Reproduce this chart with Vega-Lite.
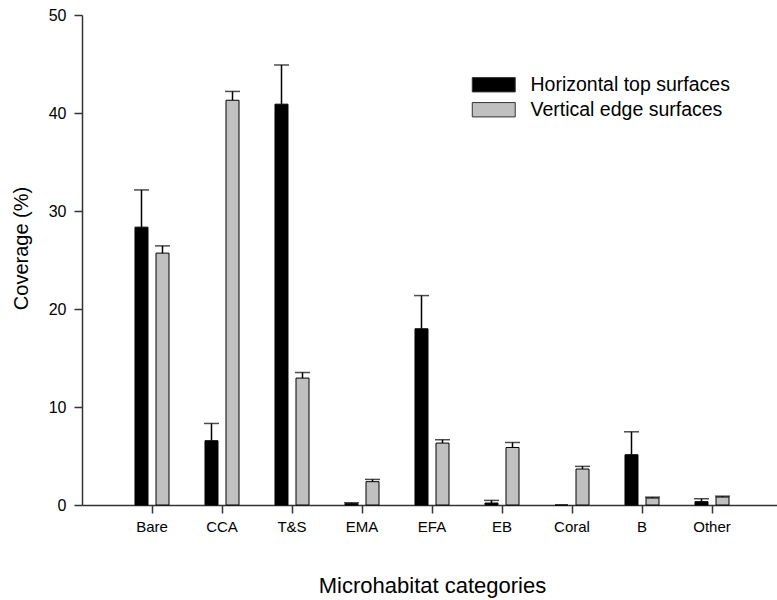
{
  "$schema": "https://vega.github.io/schema/vega-lite/v6.json",
  "width": 700,
  "height": 490,
  "autosize": {"type": "none"},
  "padding": {"left": 82, "top": 15, "right": 0, "bottom": 95},
  "background": "white",
  "config": {
    "view": {"stroke": null},
    "font": "Liberation Sans",
    "axis": {"grid": false, "domainColor": "#333333", "tickColor": "#333333", "domainWidth": 1.5, "tickWidth": 1.5, "tickSize": 8, "labelColor": "black", "titleColor": "black", "titleFontWeight": "normal", "labelFont": "Liberation Sans", "titleFont": "Liberation Sans"}
  },
  "data": {
    "values": [
      {"cat": "Bare", "surface": "Horizontal top surfaces", "mean": 28.35, "upper": 32.15},
      {"cat": "Bare", "surface": "Vertical edge surfaces", "mean": 25.7, "upper": 26.44},
      {"cat": "CCA", "surface": "Horizontal top surfaces", "mean": 6.56, "upper": 8.32},
      {"cat": "CCA", "surface": "Vertical edge surfaces", "mean": 41.3, "upper": 42.2},
      {"cat": "T&S", "surface": "Horizontal top surfaces", "mean": 40.9, "upper": 44.9},
      {"cat": "T&S", "surface": "Vertical edge surfaces", "mean": 12.95, "upper": 13.52},
      {"cat": "EMA", "surface": "Horizontal top surfaces", "mean": 0.13, "upper": 0.23},
      {"cat": "EMA", "surface": "Vertical edge surfaces", "mean": 2.38, "upper": 2.61},
      {"cat": "EFA", "surface": "Horizontal top surfaces", "mean": 17.98, "upper": 21.37},
      {"cat": "EFA", "surface": "Vertical edge surfaces", "mean": 6.32, "upper": 6.66},
      {"cat": "EB", "surface": "Horizontal top surfaces", "mean": 0.2, "upper": 0.47},
      {"cat": "EB", "surface": "Vertical edge surfaces", "mean": 5.87, "upper": 6.38},
      {"cat": "Coral", "surface": "Horizontal top surfaces", "mean": 0, "upper": null},
      {"cat": "Coral", "surface": "Vertical edge surfaces", "mean": 3.67, "upper": 3.94},
      {"cat": "B", "surface": "Horizontal top surfaces", "mean": 5.13, "upper": 7.47},
      {"cat": "B", "surface": "Vertical edge surfaces", "mean": 0.71, "upper": 0.8},
      {"cat": "Other", "surface": "Horizontal top surfaces", "mean": 0.34, "upper": 0.64},
      {"cat": "Other", "surface": "Vertical edge surfaces", "mean": 0.81, "upper": 0.9}
    ]
  },
  "encoding": {
    "x": {
      "field": "cat", "type": "nominal",
      "sort": ["Bare", "CCA", "T&S", "EMA", "EFA", "EB", "Coral", "B", "Other"],
      "scale": {"paddingInner": 0, "paddingOuter": 0.5},
      "axis": {"title": "Microhabitat categories", "labelAngle": 0, "labelFontSize": 15, "labelPadding": 6, "titleFontSize": 22, "titlePadding": 41}
    },
    "xOffset": {
      "field": "surface", "type": "nominal",
      "scale": {"paddingInner": 0.381, "paddingOuter": 0.857}
    }
  },
  "layer": [
    {
      "mark": {"type": "bar", "stroke": "black", "strokeWidth": 1},
      "encoding": {
        "y": {
          "field": "mean", "type": "quantitative",
          "scale": {"domain": [0, 50], "nice": false},
          "axis": {"title": "Coverage (%)", "values": [0, 10, 20, 30, 40, 50], "labelFontSize": 16, "labelPadding": 8, "titleFontSize": 20, "titlePadding": 17, "titleY": 233}
        },
        "fill": {
          "field": "surface", "type": "nominal",
          "scale": {"domain": ["Horizontal top surfaces", "Vertical edge surfaces"], "range": ["black", "#c0c0c0"]},
          "legend": {
            "title": null,
            "orient": "none",
            "legendX": 402,
            "legendY": 60,
            "symbolType": "M-3,-1H3V1H-3Z",
            "symbolSize": 205,
            "symbolStrokeColor": "#333333",
            "symbolStrokeWidth": 1,
            "labelFontSize": 19.5,
            "labelFont": "Liberation Sans",
            "labelColor": "black",
            "labelOffset": 27,
            "labelLimit": 400,
            "rowPadding": 4
          }
        }
      }
    },
    {
      "transform": [{"filter": "datum.upper != null"}],
      "mark": {"type": "rule", "color": "black", "strokeWidth": 1.5},
      "encoding": {
        "y": {"field": "mean", "type": "quantitative"},
        "y2": {"field": "upper"}
      }
    },
    {
      "transform": [{"filter": "datum.upper != null"}],
      "mark": {"type": "tick", "color": "black", "thickness": 1.5, "size": 15, "orient": "horizontal"},
      "encoding": {
        "y": {"field": "upper", "type": "quantitative"}
      }
    }
  ]
}
